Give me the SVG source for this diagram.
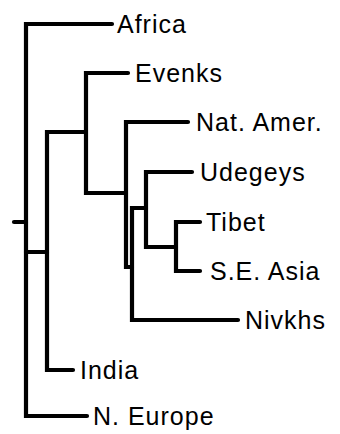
<svg xmlns="http://www.w3.org/2000/svg" width="340" height="434" viewBox="0 0 340 434">
  <style>
    .branch { fill: none; stroke: #000; stroke-width: 4.2; stroke-linecap: round; stroke-linejoin: miter; }
    .label { font-family: "Liberation Sans", Arial, sans-serif; font-size: 25px; letter-spacing: 1px; fill: #000; }
  </style>
  <rect width="340" height="434" fill="#fff"/>

  <!-- tree branches -->
  <g id="connectors">
    <path class="branch" d="M14,222 H26"/>
    <path class="branch" d="M112,24 H26 V416 H87"/>
    <path class="branch" d="M26,252 H47"/>
    <path class="branch" d="M85,132 H47 V370 H73"/>
    <path class="branch" d="M128,73 H86 V193 H126"/>
    <path class="branch" d="M188,122 H126 V267 H132"/>
    <path class="branch" d="M146,208 H132 V320 H238"/>
    <path class="branch" d="M192,172 H146 V247 H176"/>
    <path class="branch" d="M200,222 H176 V271 H200"/>
  </g>

  <!-- leaf labels -->
  <g id="africa"><text class="label" x="117" y="33">Africa</text></g>
  <g id="evenks"><text class="label" x="135" y="82">Evenks</text></g>
  <g id="nat-amer"><text class="label" x="196" y="131">Nat. Amer.</text></g>
  <g id="udegeys"><text class="label" x="200" y="181">Udegeys</text></g>
  <g id="tibet"><text class="label" x="206" y="231">Tibet</text></g>
  <g id="se-asia"><text class="label" x="210" y="280">S.E. Asia</text></g>
  <g id="nivkhs"><text class="label" x="245" y="329">Nivkhs</text></g>
  <g id="india"><text class="label" x="80" y="379">India</text></g>
  <g id="n-europe"><text class="label" x="93" y="425">N. Europe</text></g>
</svg>
